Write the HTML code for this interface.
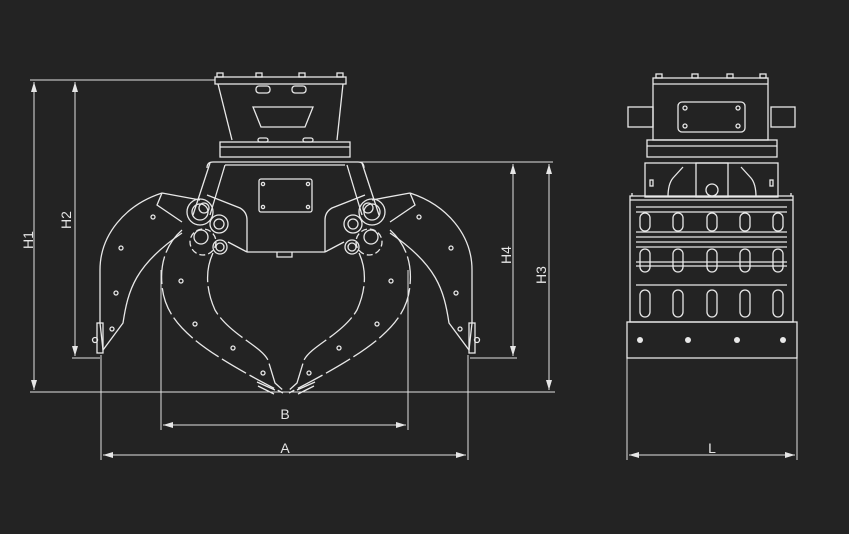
<!DOCTYPE html>
<html><head><meta charset="utf-8"><style>
html,body{margin:0;padding:0;background:#232323;}
svg{display:block}
text{font-family:"Liberation Sans",sans-serif;fill:#e6e6e6;font-size:14px}
</style></head><body>
<svg width="849" height="534" viewBox="0 0 849 534" xmlns="http://www.w3.org/2000/svg">
<rect width="849" height="534" fill="#232323"/>
<defs>
<marker id="ar" markerWidth="10" markerHeight="6" refX="10" refY="3" orient="auto-start-reverse" markerUnits="userSpaceOnUse">
<path d="M0,0 L10,3 L0,6z" fill="#e6e6e6"/></marker>
<g id="half" fill="none" stroke="#e8e8e8" stroke-width="1.3">
  <!-- outer jaw -->
  <path d="M162,193 C125,205 100,235 100,270 L100,323 L103,350 L123,323 C128,290 135,265 182,233"/>
  <path d="M162,193 L157,205 L182,222 M162,193 L200,200"/>
  <rect x="97" y="323" width="6" height="30"/>
  <circle cx="95" cy="340" r="2.5"/>
  <circle cx="153" cy="217" r="2"/><circle cx="121" cy="248" r="2"/><circle cx="116" cy="293" r="2"/><circle cx="112" cy="329" r="2"/>
  <!-- inner jaw -->
  <path d="M182,230 C165,245 160,265 162,285 C165,325 200,350 283,393" stroke-dasharray="28,4"/>
  <path d="M213,253 C205,270 206,290 215,310 C230,335 260,345 268,360 L275,383 L285,392" stroke-dasharray="30,4"/>
  <path d="M257,382 L275,390 M258,386 L274,394"/>
  <circle cx="181" cy="281" r="2"/><circle cx="195" cy="324" r="2"/><circle cx="233" cy="348" r="2"/><circle cx="263" cy="373" r="2"/>
  <!-- pins -->
  <circle cx="200" cy="212" r="13"/><circle cx="200" cy="212" r="8"/><circle cx="204" cy="208" r="5"/>
  <circle cx="203" cy="242" r="13" stroke-dasharray="6,3"/><circle cx="201" cy="237" r="7"/>
  <circle cx="219" cy="224" r="9"/><circle cx="219" cy="224" r="5"/>
  <circle cx="220" cy="247" r="7"/><circle cx="220" cy="247" r="4"/>
  <path d="M193,215 L210,163 M210,215 L225,165"/>
  <!-- side plate -->
  <path d="M207,195 L240,208 Q247,212 247,220 L247,252"/>
  <path d="M228,242 L247,252"/>
</g>
</defs>

<g fill="none" stroke="#e0e0e0" stroke-width="1">
  <path d="M30,80 L215,80 M30,392 L555,392 M72,358 L100,358 M355,162 L553,162 M470,358 L517,358"/>
  <path d="M34,82 L34,390" marker-start="url(#ar)" marker-end="url(#ar)"/>
  <path d="M75,82 L75,356" marker-start="url(#ar)" marker-end="url(#ar)"/>
  <path d="M513,164 L513,356" marker-start="url(#ar)" marker-end="url(#ar)"/>
  <path d="M549,164 L549,390" marker-start="url(#ar)" marker-end="url(#ar)"/>
  <path d="M161,270 L161,430 M408,270 L408,430 M101,355 L101,460 M468,355 L468,460 M627,325 L627,460 M797,325 L797,460"/>
  <path d="M163,425 L406,425" marker-start="url(#ar)" marker-end="url(#ar)"/>
  <path d="M103,455 L466,455" marker-start="url(#ar)" marker-end="url(#ar)"/>
  <path d="M629,455 L795,455" marker-start="url(#ar)" marker-end="url(#ar)"/>
</g>
<text x="285" y="419" text-anchor="middle">B</text>
<text x="285" y="453" text-anchor="middle">A</text>
<text x="712" y="453" text-anchor="middle">L</text>
<text transform="translate(33,240) rotate(-90)" text-anchor="middle">H1</text>
<text transform="translate(71,220) rotate(-90)" text-anchor="middle">H2</text>
<text transform="translate(511,255) rotate(-90)" text-anchor="middle">H4</text>
<text transform="translate(546,275) rotate(-90)" text-anchor="middle">H3</text>

<use href="#half"/>
<use href="#half" transform="translate(572,0) scale(-1,1)"/>
<g fill="none" stroke="#e8e8e8" stroke-width="1.3">
  <rect x="215" y="77" width="131" height="7"/>
  <rect x="217" y="73" width="6" height="4"/><rect x="256" y="73" width="6" height="4"/><rect x="299" y="73" width="6" height="4"/><rect x="337" y="73" width="6" height="4"/>
  <path d="M218,84 L232,140 M343,84 L337,140"/>
  <path d="M253,107 L313,107 L305,127 L261,127 Z"/>
  <rect x="256" y="86" width="14" height="7" rx="3"/><rect x="292" y="86" width="14" height="7" rx="3"/>
  <rect x="258" y="138" width="10" height="4" rx="2"/><rect x="303" y="138" width="10" height="4" rx="2"/>
  <rect x="220" y="142" width="130" height="15"/>
  <path d="M220,147 L350,147"/>
  <path d="M207,168 Q207,162 213,162 L358,162 Q364,162 364,168"/>
  <path d="M225,165 L345,165"/>
  <path d="M247,252 L325,252 M277,252 L277,257 L292,257 L292,252"/>
  <rect x="259" y="179" width="53" height="33" rx="2"/>
  <circle cx="263" cy="184" r="1.6"/><circle cx="308" cy="184" r="1.6"/><circle cx="263" cy="207" r="1.6"/><circle cx="308" cy="207" r="1.6"/>
</g>

<g fill="none" stroke="#e8e8e8" stroke-width="1.3">
  <rect x="653" y="78" width="115" height="62"/>
  <path d="M653,84 L768,84"/>
  <rect x="656" y="74" width="6" height="4"/><rect x="692" y="74" width="6" height="4"/><rect x="727" y="74" width="6" height="4"/><rect x="760" y="74" width="6" height="4"/>
  <rect x="628" y="107" width="25" height="20"/><rect x="771" y="107" width="24" height="20"/>
  <rect x="678" y="102" width="67" height="30" rx="4"/>
  <circle cx="685" cy="108" r="2"/><circle cx="738" cy="108" r="2"/><circle cx="685" cy="126" r="2"/><circle cx="738" cy="126" r="2"/>
  <rect x="647" y="140" width="130" height="17"/><path d="M647,146 L777,146"/>
  <rect x="645" y="163" width="133" height="34"/>
  <rect x="696" y="163" width="32" height="34"/>
  <circle cx="712" cy="190" r="6"/>
  <path d="M683,167 L673,178 Q668,184 668,197 M741,167 L751,178 Q756,184 756,197"/>
  <rect x="650" y="180" width="3" height="6"/><rect x="770" y="180" width="3" height="6"/>
  <rect x="630" y="196" width="163" height="126"/>
  <path d="M632,193 L632,196 M791,193 L791,196"/>
  <path d="M630,200 L793,200 M636,207 L787,207 M636,212 L787,212 M636,232 L787,232 M636,237 L787,237 M636,242 L787,242 M636,247 L787,247 M636,262 L787,262 M636,266 L787,266 M636,285 L787,285"/>
  <g>
    <rect x="640" y="213" width="10" height="18" rx="5"/><rect x="673" y="213" width="10" height="18" rx="5"/><rect x="707" y="213" width="10" height="18" rx="5"/><rect x="740" y="213" width="10" height="18" rx="5"/><rect x="773" y="213" width="10" height="18" rx="5"/>
    <rect x="640" y="249" width="10" height="23" rx="5"/><rect x="673" y="249" width="10" height="23" rx="5"/><rect x="707" y="249" width="10" height="23" rx="5"/><rect x="740" y="249" width="10" height="23" rx="5"/><rect x="773" y="249" width="10" height="23" rx="5"/>
    <rect x="640" y="290" width="10" height="27" rx="5"/><rect x="673" y="290" width="10" height="27" rx="5"/><rect x="707" y="290" width="10" height="27" rx="5"/><rect x="740" y="290" width="10" height="27" rx="5"/><rect x="773" y="290" width="10" height="27" rx="5"/>
  </g>
  <rect x="627" y="322" width="170" height="36"/>
</g>
<g fill="#e8e8e8"><circle cx="640" cy="340" r="3"/><circle cx="688" cy="340" r="3"/><circle cx="737" cy="340" r="3"/><circle cx="783" cy="340" r="3"/></g>
</svg>
</body></html>
